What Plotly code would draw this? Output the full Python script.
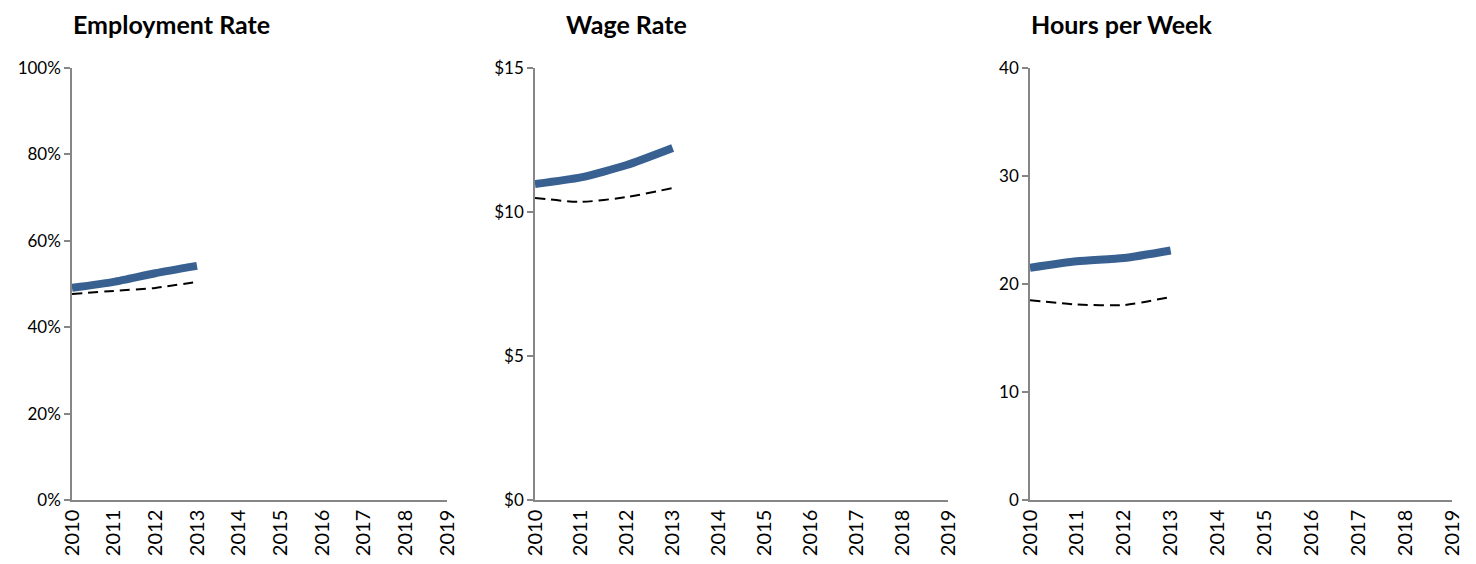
import plotly.graph_objects as go

years = [2010, 2011, 2012, 2013]
all_years = list(range(2010, 2020))

emp_solid = [0.491, 0.505, 0.525, 0.542]
emp_dash = [0.477, 0.484, 0.491, 0.505]
wage_solid = [10.97, 11.2, 11.63, 12.22]
wage_dash = [10.49, 10.35, 10.52, 10.83]
hours_solid = [21.5, 22.1, 22.4, 23.1]
hours_dash = [18.5, 18.1, 18.05, 18.8]

titles = ["Employment Rate", "Wage Rate", "Hours per Week"]
title_x = [171, 626, 1121]

BLUE = "#386192"
GREY = "#868686"
FONT = "Lato, Carlito, Calibri, sans-serif"
W, H = 1476, 564
OFF = 8  # page body margin

x_domains = [(72, 447), (535, 948), (1030, 1452)]
y_dom = [1 - (500 - OFF) / H, 1 - (68 - OFF) / H]

panels = [
    (emp_solid, emp_dash, [0, 1], [0, 0.2, 0.4, 0.6, 0.8, 1.0], ["0%", "20%", "40%", "60%", "80%", "100%"]),
    (wage_solid, wage_dash, [0, 15], [0, 5, 10, 15], ["$0", "$5", "$10", "$15"]),
    (hours_solid, hours_dash, [0, 40], [0, 10, 20, 30, 40], ["0", "10", "20", "30", "40"]),
]

fig = go.Figure()
layout = {}
for i, (solid, dash, yr, tv, tt) in enumerate(panels):
    n = "" if i == 0 else str(i + 1)
    fig.add_trace(go.Scatter(x=years, y=dash, mode="lines", xaxis="x" + n, yaxis="y" + n,
                             line=dict(color="black", width=2, dash="10px,6px", shape="spline", smoothing=0.6),
                             showlegend=False))
    fig.add_trace(go.Scatter(x=years, y=solid, mode="lines", xaxis="x" + n, yaxis="y" + n,
                             line=dict(color=BLUE, width=8, shape="spline", smoothing=0.6),
                             showlegend=False))
    layout["xaxis" + n] = dict(
        domain=[(x_domains[i][0] - OFF) / W, (x_domains[i][1] - OFF) / W], anchor="y" + n,
        range=[2010, 2019], tickvals=all_years, ticktext=[str(y) for y in all_years],
        tickangle=-90, showgrid=False, zeroline=False, showline=True, linecolor=GREY,
        linewidth=1.5, ticks="", automargin=False,
        tickfont=dict(size=20, color="black", family=FONT),
    )
    layout["yaxis" + n] = dict(
        domain=y_dom, anchor="x" + n, range=yr, tickvals=tv, ticktext=tt,
        showgrid=False, zeroline=False, showline=True, linecolor=GREY, linewidth=1.5,
        ticks="outside", ticklen=6, tickcolor=GREY, tickwidth=1.5, automargin=False,
        tickfont=dict(size=17, color="black", family=FONT),
    )
    fig.add_annotation(text="<b>" + titles[i] + "</b>", x=(title_x[i] - OFF) / W, y=1,
                       xref="paper", yref="paper", xanchor="center", yanchor="top",
                       borderpad=0, showarrow=False,
                       font=dict(size=25, color="black", family=FONT))

fig.update_layout(
    **layout,
    width=W, height=H,
    margin=dict(l=0, r=0, t=0, b=0),
    paper_bgcolor="white", plot_bgcolor="white",
    font=dict(family=FONT, color="black"),
)

fig.write_html("out.html")
